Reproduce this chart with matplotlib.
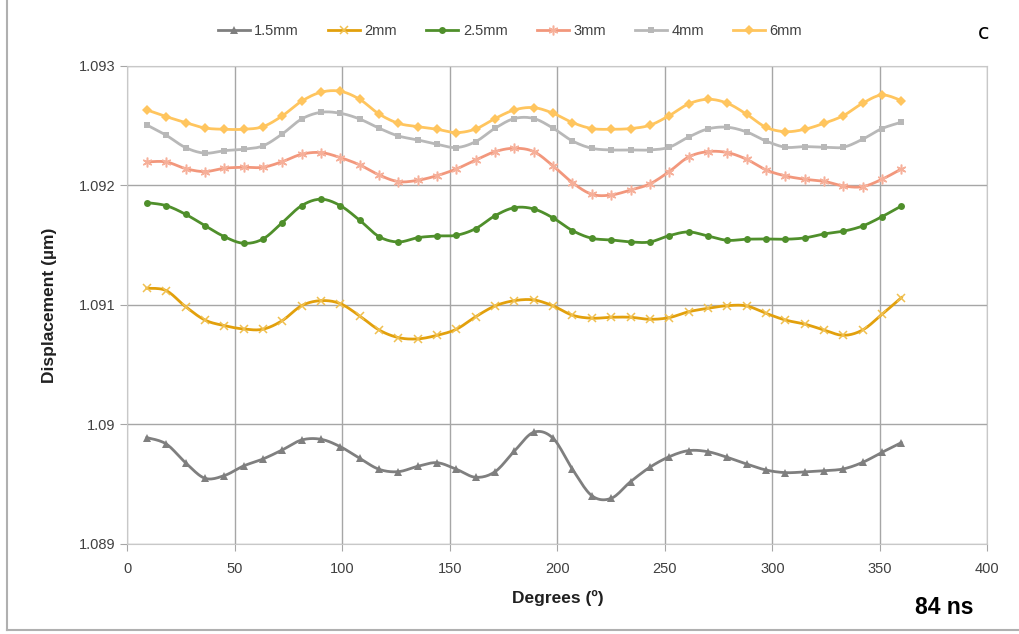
import numpy as np
import matplotlib
matplotlib.use('Agg')
import matplotlib.pyplot as plt
from matplotlib.lines import Line2D

plt.rcParams['font.family'] = ['Liberation Sans', 'DejaVu Sans']

# Angle steps (degrees) and displacement per electrode gap
degrees = list(range(9, 361, 9))

d_1_5mm = [1.08989, 1.089837, 1.08968, 1.08955, 1.089572, 1.089653, 1.089711, 1.089787,
           1.08987, 1.089876, 1.089814, 1.089717, 1.089625, 1.089605, 1.08965, 1.08968,
           1.089625, 1.089558, 1.089605, 1.089778, 1.089935, 1.089884, 1.089625, 1.089404,
           1.089382, 1.089521, 1.089642, 1.08973, 1.089781, 1.089772, 1.089725, 1.089669,
           1.089619, 1.089597, 1.089603, 1.089613, 1.089628, 1.089683, 1.089767, 1.089848]
d_2mm = [1.09114, 1.09112, 1.090986, 1.090874, 1.090827, 1.090799, 1.090797, 1.090869,
         1.090994, 1.091036, 1.091011, 1.090908, 1.090791, 1.090727, 1.090716, 1.090746,
         1.090797, 1.090902, 1.090992, 1.091036, 1.091042, 1.090992, 1.090914, 1.090889,
         1.090897, 1.090897, 1.09088, 1.090894, 1.090943, 1.090972, 1.090994, 1.090992,
         1.09093, 1.090874, 1.09084, 1.090791, 1.090746, 1.090791, 1.090922, 1.091061]
d_2_5mm = [1.091856, 1.091831, 1.091759, 1.091664, 1.091572, 1.091516, 1.091552, 1.091689,
           1.091831, 1.091885, 1.091831, 1.091709, 1.091572, 1.091527, 1.091563, 1.091577,
           1.091583, 1.091639, 1.091747, 1.091814, 1.091803, 1.091728, 1.091622, 1.091558,
           1.091544, 1.091527, 1.091527, 1.09158, 1.091611, 1.091577, 1.091541, 1.09155,
           1.091552, 1.09155, 1.091561, 1.091594, 1.091617, 1.091661, 1.091739, 1.091828]
d_3mm = [1.092197, 1.092197, 1.092141, 1.092116, 1.092144, 1.092152, 1.092152, 1.092199,
         1.092261, 1.092275, 1.092233, 1.092172, 1.092088, 1.092032, 1.092043, 1.092082,
         1.092138, 1.092213, 1.092283, 1.092311, 1.092283, 1.092163, 1.092023, 1.091926,
         1.09192, 1.091962, 1.092013, 1.092116, 1.092238, 1.092283, 1.092275, 1.092219,
         1.09213, 1.09208, 1.092052, 1.092035, 1.091996, 1.09199, 1.092052, 1.092138]
d_4mm = [1.092506, 1.09242, 1.092317, 1.09227, 1.092291, 1.092303, 1.092331, 1.092431,
         1.092556, 1.092612, 1.092604, 1.092556, 1.092479, 1.092414, 1.092381, 1.092345,
         1.092317, 1.092367, 1.092479, 1.09256, 1.09256, 1.092479, 1.092372, 1.092311,
         1.092297, 1.092297, 1.092297, 1.09232, 1.092405, 1.092473, 1.092487, 1.092448,
         1.092372, 1.09232, 1.092325, 1.09232, 1.09232, 1.092387, 1.092476, 1.092529]
d_6mm = [1.092632, 1.092576, 1.092526, 1.092481, 1.09247, 1.09247, 1.092492, 1.092582,
         1.092705, 1.09278, 1.092788, 1.092721, 1.092598, 1.09252, 1.092492, 1.09247,
         1.092442, 1.092473, 1.09256, 1.092632, 1.092651, 1.092604, 1.092526, 1.092476,
         1.09247, 1.092476, 1.092504, 1.092584, 1.092682, 1.092721, 1.092688, 1.092596,
         1.092487, 1.09245, 1.09247, 1.09252, 1.092584, 1.092688, 1.092757, 1.09271]

labels = ['1.5mm', '2mm', '2.5mm', '3mm', '4mm', '6mm']
colors = ['#7f7f7f', '#e2a00c', '#4f8f2b', '#f2977c', '#b8b8b8', '#ffc55e']
mcolors = ['#7f7f7f', '#f0c050', '#4f8f2b', '#f6b09a', '#b8b8b8', '#ffc55e']
markers = ['^', 'x', 'o', (6, 2, 0), 's', 'D']
msizes = [6, 6, 5, 7, 4.5, 5]
series = [d_1_5mm, d_2mm, d_2_5mm, d_3mm, d_4mm, d_6mm]


def smooth(x, y, n=12):
    # Catmull-Rom curve through the points, like spreadsheet "smoothed line"
    x = np.asarray(x, float)
    y = np.asarray(y, float)
    px = np.concatenate([[x[0]], x, [x[-1]]])
    py = np.concatenate([[y[0]], y, [y[-1]]])
    xs, ys = [], []
    t = np.linspace(0, 1, n, endpoint=False)
    for i in range(1, len(px) - 2):
        for p, out in ((px, xs), (py, ys)):
            p0, p1, p2, p3 = p[i - 1], p[i], p[i + 1], p[i + 2]
            out.extend(0.5 * (2 * p1 + (-p0 + p2) * t
                              + (2 * p0 - 5 * p1 + 4 * p2 - p3) * t ** 2
                              + (-p0 + 3 * p1 - 3 * p2 + p3) * t ** 3))
    xs.append(x[-1])
    ys.append(y[-1])
    return xs, ys


fig = plt.figure(figsize=(10.2, 6.34), dpi=100)
ax = fig.add_axes([0.125, 0.142, 0.843, 0.754])

handles = []
for vals, lab, c, mc, m, ms in zip(series, labels, colors, mcolors, markers, msizes):
    sx, sy = smooth(degrees, vals)
    ax.plot(sx, sy, color=c, lw=2.0, zorder=3)
    mew = 1.1 if m in ('x', (6, 2, 0)) else 0
    ax.plot(degrees, vals, ls='none', marker=m, ms=ms, color=mc, mec=mc, mew=mew, zorder=4)
    handles.append(Line2D([], [], color=c, lw=2.0, marker=m, ms=ms, mfc=mc, mec=mc, mew=mew))

ax.set_xlim(0, 400)
ax.set_ylim(1.089, 1.093)
ax.set_xticks(range(0, 401, 50))
ax.set_yticks([1.089, 1.090, 1.091, 1.092, 1.093])
ax.set_yticklabels(['1.089', '1.09', '1.091', '1.092', '1.093'])
ax.grid(True, color='#a6a6a6', lw=1.0, zorder=0)
ax.set_axisbelow(True)
for s in ax.spines.values():
    s.set_color('#c8c8c8')
ax.tick_params(axis='both', labelsize=10.5, colors='#a6a6a6', labelcolor='#404040', length=5)
ax.tick_params(axis='x', pad=8)

ax.set_xlabel('Degrees (º)', fontsize=12.5, fontweight='bold', color='#202020', labelpad=10)
ax.set_ylabel('Displacement (µm)', fontsize=12.5, fontweight='bold', color='#202020', labelpad=16)

fig.legend(handles, labels, loc='center', bbox_to_anchor=(0.5, 0.951), ncol=6,
           frameon=False, fontsize=10.5, handlelength=2.2, columnspacing=2.0,
           handletextpad=0.3, labelcolor='#404040')

fig.text(0.926, 0.042, '84 ns', fontsize=16.5, fontweight='bold', ha='center', va='center')
fig.text(0.964, 0.948, 'c', fontsize=15, ha='center', va='center', family='DejaVu Sans')

# outer chart frame (left and bottom edges)
fig.add_artist(Line2D([0.007, 0.007], [0.006, 1.0], color='#b0b0b0', lw=1.5))
fig.add_artist(Line2D([0.007, 1.0], [0.006, 0.006], color='#b0b0b0', lw=1.5))

fig.savefig('out.png', dpi=100)
